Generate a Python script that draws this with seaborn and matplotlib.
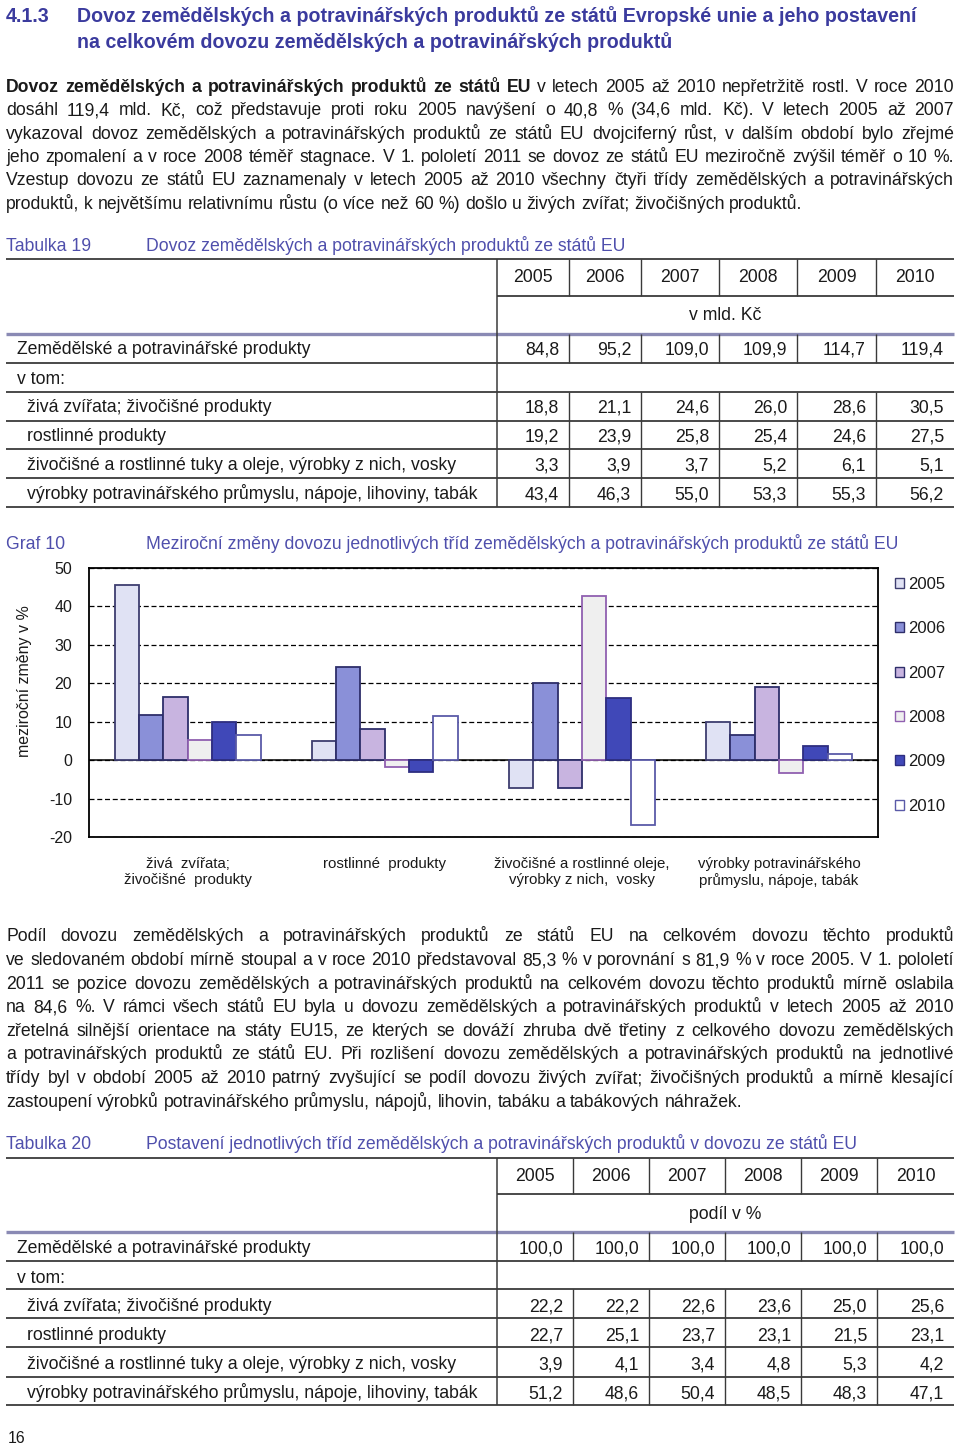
import numpy as np
import pandas as pd
import matplotlib
matplotlib.use('Agg')
import matplotlib.pyplot as plt
import seaborn as sns
from matplotlib.lines import Line2D
from matplotlib.patches import Patch

# ---------------- data ----------------
years = ['2005', '2006', '2007', '2008', '2009', '2010']
categories = ['živá  zvířata;\nživočišné  produkty',
              'rostlinné  produkty',
              'živočišné a rostlinné oleje,\nvýrobky z nich,  vosky',
              'výrobky potravinářského\nprůmyslu, nápoje, tabák']
# year-on-year changes in %
yoy_live = [45.4, 11.8, 16.5, 5.3, 10.0, 6.6]
yoy_plant = [5.0, 24.2, 8.0, -1.7, -3.1, 11.4]
yoy_oils = [-7.2, 20.0, -7.2, 42.7, 16.2, -16.8]
yoy_food = [10.0, 6.5, 18.9, -3.4, 3.8, 1.5]

row_labels = ['Zemědělské a potravinářské produkty', 'v tom:',
              'živá zvířata; živočišné produkty', 'rostlinné produkty',
              'živočišné a rostlinné tuky a oleje, výrobky z nich, vosky',
              'výrobky potravinářského průmyslu, nápoje, lihoviny, tabák']
t19_total = [84.8, 95.2, 109.0, 109.9, 114.7, 119.4]
t19_live = [18.8, 21.1, 24.6, 26.0, 28.6, 30.5]
t19_plant = [19.2, 23.9, 25.8, 25.4, 24.6, 27.5]
t19_oils = [3.3, 3.9, 3.7, 5.2, 6.1, 5.1]
t19_food = [43.4, 46.3, 55.0, 53.3, 55.3, 56.2]

t20_total = [100.0, 100.0, 100.0, 100.0, 100.0, 100.0]
t20_live = [22.2, 22.2, 22.6, 23.6, 25.0, 25.6]
t20_plant = [22.7, 25.1, 23.7, 23.1, 21.5, 23.1]
t20_oils = [3.9, 4.1, 3.4, 4.8, 5.3, 4.2]
t20_food = [51.2, 48.6, 50.4, 48.5, 48.3, 47.1]

heading_num = '4.1.3'
heading_lines = ['Dovoz zemědělských a potravinářských produktů ze států Evropské unie a jeho postavení',
                 'na celkovém dovozu zemědělských a potravinářských produktů']
para1_bold = 'Dovoz zemědělských a potravinářských produktů ze států EU'
para1 = [
    'Dovoz zemědělských a potravinářských produktů ze států EU v letech 2005 až 2010 nepřetržitě rostl. V roce 2010',
    'dosáhl 119,4 mld. Kč, což představuje proti roku 2005 navýšení o 40,8 % (34,6 mld. Kč). V letech 2005 až 2007',
    'vykazoval dovoz zemědělských a potravinářských produktů ze států EU dvojciferný růst, v dalším období bylo zřejmé',
    'jeho zpomalení a v roce 2008 téměř stagnace. V 1. pololetí 2011 se dovoz ze států EU meziročně zvýšil téměř o 10 %.',
    'Vzestup dovozu ze států EU zaznamenaly v letech 2005 až 2010 všechny čtyři třídy zemědělských a potravinářských',
    'produktů, k největšímu relativnímu růstu (o více než 60 %) došlo u živých zvířat; živočišných produktů.',
]
para2 = [
    'Podíl dovozu zemědělských a potravinářských produktů ze států EU na celkovém dovozu těchto produktů',
    've sledovaném období mírně stoupal a v roce 2010 představoval 85,3 % v porovnání s 81,9 % v roce 2005. V 1. pololetí',
    '2011 se pozice dovozu zemědělských a potravinářských produktů na celkovém dovozu těchto produktů mírně oslabila',
    'na 84,6 %. V rámci všech států EU byla u dovozu zemědělských a potravinářských produktů v letech 2005 až 2010',
    'zřetelná silnější orientace na státy EU15, ze kterých se dováží zhruba dvě třetiny z celkového dovozu zemědělských',
    'a potravinářských produktů ze států EU. Při rozlišení dovozu zemědělských a potravinářských produktů na jednotlivé',
    'třídy byl v období 2005 až 2010 patrný zvyšující se podíl dovozu živých zvířat; živočišných produktů a mírně klesající',
    'zastoupení výrobků potravinářského průmyslu, nápojů, lihovin, tabáku a tabákových náhražek.',
]

# ---------------- styles ----------------
sns.set_style('white')
FAM = ['Liberation Sans', 'DejaVu Sans']
plt.rcParams['font.family'] = FAM
plt.rcParams['axes.unicode_minus'] = False

TXT = '#1a1a1a'
HEAD = '#3b3b9e'
CAP = '#4f4fac'
face_colors = ['#e0e2f4', '#8a90d8', '#c8b4e0', '#efefef', '#4048b8', '#ffffff']
edge_colors = ['#3e3e70', '#2e2e6a', '#2e2e6a', '#9060b0', '#2e2e80', '#5a5aa8']

W, H = 960, 1447
fig = plt.figure(figsize=(W / 100, H / 100), dpi=100)
renderer = fig.canvas.get_renderer()


def fx(x):
    return x / W


def fy(y):
    return 1 - y / H


def tw(s, size, weight='normal'):
    t = fig.text(0, 0, s, fontsize=size, weight=weight)
    w = t.get_window_extent(renderer).width
    t.remove()
    return w


def calib(s, target, weight='normal'):
    return 10 * target / tw(s, 10, weight)


def put(x, y, s, size, color=TXT, weight='normal', ha='left'):
    # y is the visual middle of the line; convert to a baseline
    yb = y + 0.34 * size * 100 / 72
    return fig.text(fx(x), fy(yb), s, fontsize=size, color=color, weight=weight,
                    ha=ha, va='baseline')


def hline(x0, x1, y, lw=1.1, color='#3a3a3a'):
    fig.add_artist(Line2D([fx(x0), fx(x1)], [fy(y), fy(y)], lw=lw, color=color,
                          transform=fig.transFigure, solid_capstyle='butt'))


def vline(x, y0, y1, lw=1.1, color='#3a3a3a'):
    fig.add_artist(Line2D([fx(x), fx(x)], [fy(y0), fy(y1)], lw=lw, color=color,
                          transform=fig.transFigure, solid_capstyle='butt'))


def para_line(line, y, size, justify, bold_prefix=None, x0=6, x1=954):
    words = []
    nb = len(bold_prefix.split()) if bold_prefix and line.startswith(bold_prefix) else 0
    for i, w in enumerate(line.split()):
        words.append((w, 'bold' if i < nb else 'normal'))
    ws = [tw(w, size, wt) for w, wt in words]
    if justify and len(words) > 1:
        gap = (x1 - x0 - sum(ws)) / (len(words) - 1)
    else:
        gap = tw('a a', size) - tw('aa', size)
    x = x0
    for (w, wt), wd in zip(words, ws):
        put(x, y, w, size, weight=wt)
        x += wd + gap


# font sizes calibrated to text widths in the reference
body_fs = calib(para2[-1], 737)
head_fs = calib(heading_lines[0], 840, 'bold')
cap_fs = calib('Postavení jednotlivých tříd zemědělských a potravinářských produktů v dovozu ze států EU', 713)
tab_fs = calib(row_labels[-1], 453)

# ---------------- heading & paragraphs ----------------
put(6, 15, heading_num, head_fs, color=HEAD, weight='bold')
put(77, 15, heading_lines[0], head_fs, color=HEAD, weight='bold')
put(77, 41.5, heading_lines[1], head_fs, color=HEAD, weight='bold')

for i, line in enumerate(para1):
    para_line(line, 86 + 23.35 * i, body_fs, i < len(para1) - 1, bold_prefix=para1_bold)

for i, line in enumerate(para2):
    para_line(line, 935.5 + 23.6 * i, body_fs, i < len(para2) - 1)


# ---------------- tables ----------------
def fmt(v):
    return f'{v:.1f}'.replace('.', ',')


def draw_table(num, title, unit, ytitle, ytop, yyears, yline_years, yunit, ythick,
               yrows, ylines, cols, data):
    put(6, ytitle, f'Tabulka {num}', cap_fs, color=CAP)
    put(146, ytitle, title, cap_fs, color=CAP)
    hline(6, 954, ytop, lw=1.3)
    for j, yr in enumerate(years):
        put((cols[j] + cols[j + 1]) / 2, yyears, yr, tab_fs, ha='center')
    hline(cols[0], 954, yline_years, lw=1.3)
    put((cols[0] + 954) / 2, yunit, unit, tab_fs, ha='center')
    hline(6, 954, ythick, lw=2.4, color='#8a8ab4')
    for i, lab in enumerate(row_labels):
        x = 17 if i < 2 else 27
        put(x, yrows[i], lab, tab_fs)
        vals = data[i]
        if vals is not None:
            for j, v in enumerate(vals):
                put(cols[j + 1] - 10, yrows[i], fmt(v), tab_fs, ha='right')
        hline(6, 954, ylines[i], lw=1.3)
    vline(cols[0], ytop, ylines[-1], lw=1.1)
    for c in cols[1:-1]:
        vline(c, ytop, yline_years, lw=1.0)
        vline(c, ythick, ylines[0], lw=1.0)
        vline(c, ylines[1], ylines[-1], lw=1.0)


draw_table(19, 'Dovoz zemědělských a potravinářských produktů ze států EU', 'v mld. Kč',
           245.5, 259, 276, 296, 314, 334,
           [348, 377.5, 406, 435, 464, 493],
           [362.7, 392, 420.7, 449, 477.7, 506.7],
           [497, 569, 641, 719, 797, 876, 954],
           [t19_total, None, t19_live, t19_plant, t19_oils, t19_food])

draw_table(20, 'Postavení jednotlivých tříd zemědělských a potravinářských produktů v dovozu ze států EU',
           'podíl v %',
           1143.5, 1158, 1175, 1194, 1213, 1232,
           [1247, 1277, 1305, 1334, 1363, 1392],
           [1261, 1289, 1318, 1347, 1377, 1405],
           [497, 573, 649, 725, 801, 877, 954],
           [t20_total, None, t20_live, t20_plant, t20_oils, t20_food])

put(8, 1438, '16', tab_fs * 0.9)

# ---------------- chart ----------------
graf_title = 'Meziroční změny dovozu jednotlivých tříd zemědělských a potravinářských produktů ze států EU'
put(6, 543, 'Graf 10', cap_fs, color=CAP)
put(146, 543, graf_title, calib(graf_title, 754), color=CAP)

ax = fig.add_axes([fx(89), fy(837.3), (877.7 - 89) / W, (837.3 - 567.7) / H])
df = pd.DataFrame({
    'kategorie': np.repeat(categories, len(years)),
    'rok': years * len(categories),
    'zmena': np.concatenate([yoy_live, yoy_plant, yoy_oils, yoy_food]),
})
sns.barplot(data=df, x='kategorie', y='zmena', hue='rok', order=categories, hue_order=years,
            palette=face_colors, saturation=1, width=0.74, gap=0, linewidth=1.3,
            edgecolor='#2e2e6a', errorbar=None, legend=False, ax=ax)
for cont, ec in zip(ax.containers, edge_colors):
    for p in cont:
        p.set_edgecolor(ec)
        p.set_zorder(2)

ax.set_ylim(-20, 50)
ax.set_yticks(range(-20, 51, 10))
ax.yaxis.grid(True, color='black', linestyle=(0, (4, 2.2)), linewidth=0.9)
ax.xaxis.grid(False)
ax.set_axisbelow(True)
ax.axhline(0, color='black', lw=1.1, zorder=1.5)
for s in ax.spines.values():
    s.set_color('black')
    s.set_linewidth(1.3)
ax.tick_params(axis='y', length=0, labelsize=11.5, pad=12, labelcolor=TXT)
ax.tick_params(axis='x', length=0, labelsize=10.8, pad=14, labelcolor=TXT)
ax.set_xlabel('')
ylab = 'meziroční změny v %'
ax.set_ylabel(ylab, fontsize=calib(ylab, 153), color=TXT)
ax.yaxis.set_label_coords((32 - 89) / (877.7 - 89), (837.3 - 681.5) / (837.3 - 567.7))
for t in ax.get_xticklabels():
    t.set_linespacing(1.2)

handles = [Patch(facecolor=fc, edgecolor=ec, lw=1.0) for fc, ec in zip(face_colors, edge_colors)]
fig.legend(handles, years, loc='upper left', bbox_to_anchor=(fx(895), fy(577)),
           frameon=False, fontsize=12, handlelength=0.55, handleheight=0.55,
           handletextpad=0.25, labelspacing=1.76, borderpad=0, borderaxespad=0,
           labelcolor=TXT)

fig.savefig('out.png', dpi=100)
